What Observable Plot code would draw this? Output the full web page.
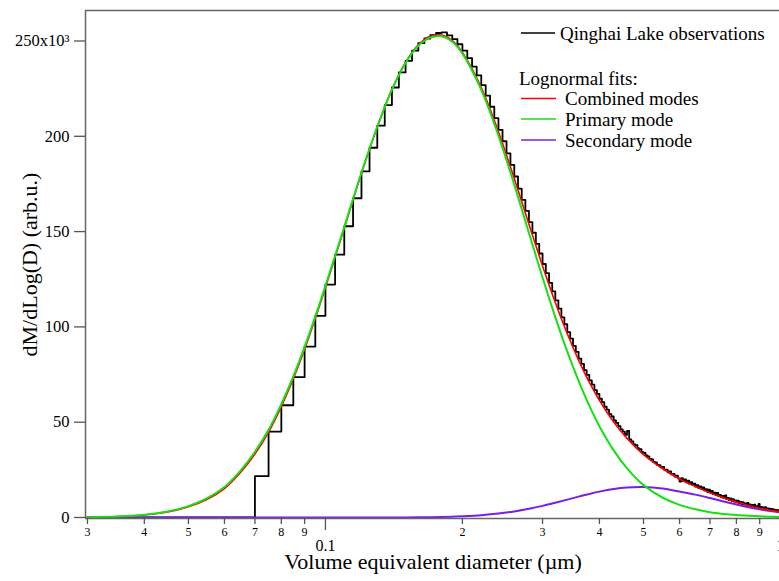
<!DOCTYPE html>
<html><head><meta charset="utf-8">
<script src="https://cdn.jsdelivr.net/npm/d3@7"></script>
<script src="https://cdn.jsdelivr.net/npm/@observablehq/plot@0.6"></script>
<style>body{margin:0;background:#fff;} #chart{position:relative;width:779px;height:581px;overflow:hidden}</style>
</head><body><div id="chart"></div>
<script>
// Observations: 5 nm wide bins starting at 0.070 µm (values in units of 10^3)
const binStart = 0.07, binWidth = 0.005;
const obsValues = [
  21.7,45.1,58.9,73.6,89.7,105.8,122.2,137.9,152.8,167.5,181.6,194.0,205.6,216.4,225.6,233.5,239.6,244.9,248.9,251.3,253.1,254.2,254.5,
  253.0,251.0,248.3,245.0,241.0,236.6,232.0,226.8,221.3,215.5,
  209.5,203.4,197.4,191.0,185.0,178.9,172.5,166.6,160.9,155.0,
  149.4,143.6,138.5,133.0,128.2,123.1,118.6,113.9,109.6,105.0,
  101.4,97.3,93.9,90.0,86.9,83.4,80.6,77.3,74.8,71.9,
  69.7,66.8,64.9,62.3,60.5,58.1,56.6,54.2,53.0,50.9,
  49.6,47.9,46.2,45.1,43.4,45.5,41.0,39.9,38.4,37.9,
  36.2,35.8,34.3,33.9,32.6,32.1,30.8,30.5,29.2,28.9,
  27.6,27.5,26.3,26.5,25.0,25.1,23.7,24.2,22.6,22.9,
  21.5,22.0,20.5,18.9,20.6,19.1,20.0,18.4,19.3,17.6,
  18.5,17.0,17.8,16.2,17.0,15.5,16.3,14.9,15.8,14.2,
  14.9,13.4,14.6,13.1,13.9,12.3,13.0,11.8,12.9,11.2,
  11.8,10.6,11.4,10.2,11.6,9.7,10.3,9.1,10.0,8.8,
  9.6,8.3,9.0,7.9,8.9,7.5,8.2,7.1,8.0,6.8,
  7.4,6.5,7.6,6.1,6.9,5.9,6.6,5.5,6.8,5.2,
  6.0,5.0,7.1,4.8,5.6,4.6,5.3,4.3,5.4,4.1,
  4.8,3.9,4.7,3.7,4.5,3.5,4.2,3.3,4.0,3.2,
  3.9,3.0,3.6
];

// Lognormal fits sampled along diameter (µm), values in units of 10^3
const fitD = [0.03,0.035,0.04,0.045,0.05,0.055,0.06,0.065,0.07,0.075,0.08,0.085,0.09,0.095,0.1,0.11,0.12,0.13,0.14,0.15,0.16,0.17,0.18,0.19,0.2,0.22,0.24,0.26,0.28,0.3,0.32,0.34,0.36,0.38,0.4,0.43,0.46,0.5,0.55,0.6,0.65,0.7,0.75,0.8,0.85,0.9,0.95,1.0];
const primaryFit = [0.2,0.5,1.4,3.1,6.0,10.2,16.0,24.5,34.5,46.0,59.5,74.0,89.5,105.5,121.5,152.5,181.0,205.0,224.5,238.5,247.5,251.8,252.5,249.6,243.4,224.4,200.3,174.6,149.3,125.9,105.1,87.0,71.7,58.7,47.9,35.2,25.8,17.0,10.5,6.6,4.3,2.8,1.9,1.3,0.9,0.6,0.4,0.25];
const secondaryFit = [0,0,0,0,0,0,0,0,0,0,0,0,0,0,0,0,0,0,0,0.06,0.1,0.15,0.25,0.4,0.64,1.23,2.08,3.2,4.57,6.1,7.74,9.38,10.94,12.35,13.57,14.94,15.74,15.97,15.2,13.6,12.0,10.2,8.4,6.8,5.4,4.3,3.4,2.7];
const combinedFit = [0.2,0.5,1.3,2.9,5.6,9.6,15.2,23.5,33.3,44.8,58.2,72.8,88.3,104.4,120.6,151.8,180.6,204.9,224.6,238.8,248.0,252.5,253.1,250.2,244.0,225.6,202.4,177.8,153.9,132.0,112.8,96.4,82.6,71.0,61.5,50.1,41.5,33.0,25.7,20.2,16.3,13.0,10.3,8.1,6.3,4.9,3.8,2.95];

const xMinorTicks = [0.03,0.04,0.05,0.06,0.07,0.08,0.09,0.2,0.3,0.4,0.5,0.6,0.7,0.8,0.9];
const xMinorLabels = ["3","4","5","6","7","8","9","2","3","4","5","6","7","8","9"];
const xMajorTicks = [0.1, 1];
const xMajorLabels = ["0.1", "1"];
const yTicks = [0, 50, 100, 150, 200, 250];
const yTickLabels = ["0", "50", "100", "150", "200", "250x10\u00B3"];

const legendLabels = ["Qinghai Lake observations", "Combined modes", "Primary mode", "Secondary mode"];
const legendColors = ["#000000", "#ff0000", "#14e014", "#7a1ee6"];
const legendHeading = "Lognormal fits:";

const xDomain = [0.0297, 1];
const yDomain = [-0.52, 266];

const obs = [{D: 0.03, v: 0}];
obsValues.forEach((v, i) => obs.push({D: +(binStart + i * binWidth).toFixed(3), v}));
obs.push({D: 1, v: obsValues[obsValues.length - 1]});

const fits = fitD.map((D, i) => ({D, p: primaryFit[i], s: secondaryFit[i], c: combinedFit[i]}));

const yMap = new Map(yTicks.map((t, i) => [t, yTickLabels[i]]));

const plot = Plot.plot({
  width: 779, height: 581,
  marginLeft: 85, marginRight: -1, marginTop: 10, marginBottom: 63,
  style: {fontFamily: "Liberation Serif", background: "white", color: "black"},
  x: {type: "log", domain: xDomain},
  y: {domain: yDomain},
  marks: [
    Plot.line(obs, {x: "D", y: "v", curve: "step-after", stroke: "black", strokeWidth: 1.8}),
    Plot.line(fits, {x: "D", y: "s", curve: "catmull-rom", stroke: legendColors[3], strokeWidth: 2}),
    Plot.line(fits, {x: "D", y: "c", curve: "catmull-rom", stroke: legendColors[1], strokeWidth: 1.6}),
    Plot.line(fits, {x: "D", y: "p", curve: "catmull-rom", stroke: legendColors[2], strokeWidth: 2}),
    Plot.ruleX([xDomain[0]], {stroke: "#666", strokeWidth: 1.5}),
    Plot.ruleY([yDomain[1]], {stroke: "#666", strokeWidth: 1.5}),
    Plot.ruleY([yDomain[0]], {stroke: "#666", strokeWidth: 1.5}),
    Plot.axisX(xMinorTicks, {tickSize: 6, stroke: "#555", fill: "none", strokeWidth: 1.3, label: null}),
    Plot.axisX(xMajorTicks, {tickSize: 12, stroke: "#555", fill: "none", strokeWidth: 1.3, label: null}),
    Plot.text(xMinorTicks, {x: d => d, frameAnchor: "bottom", lineAnchor: "top", dy: 9, text: (d, i) => xMinorLabels[i], fontSize: 12, fill: "black"}),
    Plot.text(xMajorTicks, {x: d => d, frameAnchor: "bottom", lineAnchor: "top", dy: 21, text: (d, i) => xMajorLabels[i], fontSize: 16, fill: "black"}),
    Plot.axisY(yTicks, {tickFormat: d => yMap.get(d), tickSize: 11, tickPadding: 5, fontSize: 16.5, stroke: "#555", fill: "black", strokeWidth: 1.3, label: null}),
    Plot.text(["Volume equivalent diameter (\u00B5m)"], {frameAnchor: "bottom", dy: 50, fontSize: 22, fill: "black", textAnchor: "middle"}),
    Plot.text(["dM/dLog(D) (arb.u.)"], {frameAnchor: "left", dx: -56, rotate: -90, fontSize: 22, fill: "black", textAnchor: "middle"})
  ]
});

document.getElementById("chart").appendChild(plot);

// Legend
const svg = d3.select(plot);
const lg = svg.append("g").attr("font-family", "Liberation Serif").attr("font-size", 19).attr("fill", "black").attr("text-anchor", "start");
const rows = [{y: 33, tx: 560, i: 0}, {y: 98.5, tx: 565, i: 1}, {y: 119, tx: 565, i: 2}, {y: 140, tx: 565, i: 3}];
rows.forEach(r => {
  lg.append("line").attr("x1", 521).attr("x2", r.i === 0 ? 555 : 556).attr("y1", r.y).attr("y2", r.y)
    .attr("stroke", legendColors[r.i]).attr("stroke-width", 1.5);
  lg.append("text").attr("x", r.tx).attr("y", r.y).attr("dy", "0.35em").text(legendLabels[r.i]);
});
lg.append("text").attr("x", 519).attr("y", 78).attr("dy", "0.35em").text(legendHeading);
</script>
</body></html>
